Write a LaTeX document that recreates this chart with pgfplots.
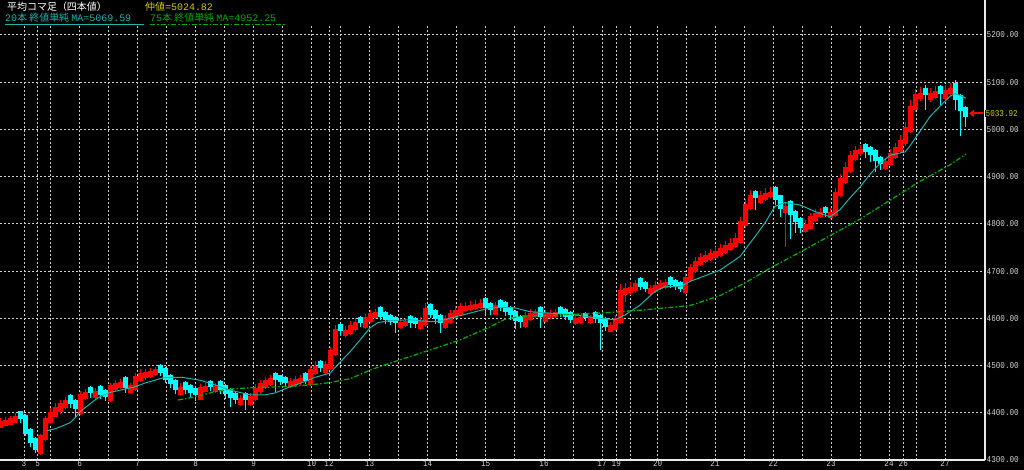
\documentclass[border=0pt]{standalone}
\usepackage{fontspec}
\usepackage{pgfplots}
\pgfplotsset{compat=1.18}
\usepackage{pgfplotstable}
\usetikzlibrary{arrows.meta}
\newfontfamily\jp{Noto Sans CJK JP}
\newfontfamily\mono{Liberation Mono}
\newfontfamily\tickf{Liberation Mono}[FakeStretch=0.85]
\definecolor{gridc}{RGB}{205,205,205}
\definecolor{ma20}{RGB}{32,178,170}
\definecolor{ma75}{RGB}{0,170,0}
\definecolor{hdrY}{RGB}{205,205,0}
\definecolor{candU}{RGB}{255,0,0}
\definecolor{candD}{RGB}{0,255,255}
% rising candles: x open close high low
\pgfplotstableread{
x o c h l
0 4368 4382 4388 4368
5 4372 4385 4391 4372
10 4375 4388 4393 4375
15 4378 4393 4399 4378
40 4312 4352 4356 4310
45 4342 4388 4394 4340
50 4378 4402 4410 4376
55 4392 4412 4420 4390
60 4402 4420 4428 4398
65 4410 4428 4434 4407
80 4398 4440 4446 4396
85 4430 4444 4450 4428
95 4431 4446 4452 4428
110 4424 4458 4464 4422
115 4448 4463 4470 4446
120 4453 4465 4472 4450
130 4442 4458 4464 4440
135 4448 4478 4485 4446
140 4468 4484 4492 4466
145 4474 4486 4492 4470
150 4476 4489 4495 4473
155 4479 4492 4497 4477
180 4438 4455 4462 4436
200 4428 4455 4460 4426
205 4445 4457 4463 4443
215 4444 4457 4462 4442
240 4416 4431 4437 4414
250 4416 4436 4442 4414
255 4426 4453 4460 4424
260 4443 4463 4470 4440
265 4453 4469 4476 4450
270 4459 4474 4480 4456
290 4454 4468 4474 4452
295 4458 4472 4478 4455
300 4462 4474 4480 4458
310 4458 4492 4500 4456
315 4482 4500 4510 4480
325 4484 4503 4510 4482
330 4493 4533 4540 4490
335 4523 4578 4586 4520
345 4563 4576 4584 4560
350 4566 4586 4594 4564
355 4576 4593 4600 4574
365 4580 4603 4610 4578
370 4593 4611 4618 4590
375 4601 4613 4620 4599
400 4579 4593 4599 4577
405 4583 4595 4600 4581
420 4578 4595 4602 4576
425 4585 4621 4633 4582
445 4580 4600 4606 4578
450 4590 4611 4618 4588
455 4601 4618 4626 4599
460 4608 4625 4632 4606
465 4615 4627 4634 4613
470 4617 4629 4636 4615
475 4619 4631 4638 4617
480 4621 4633 4640 4619
495 4608 4628 4635 4606
525 4582 4607 4614 4580
530 4597 4612 4619 4595
535 4602 4614 4620 4600
545 4593 4611 4618 4591
550 4601 4612 4618 4599
555 4602 4614 4620 4600
575 4587 4600 4606 4585
580 4590 4602 4608 4588
590 4590 4603 4608 4588
610 4572 4585 4592 4570
615 4575 4600 4608 4573
620 4590 4660 4672 4588
625 4650 4664 4674 4634
630 4654 4667 4676 4650
635 4657 4675 4682 4654
650 4652 4665 4670 4650
655 4655 4671 4678 4653
660 4661 4675 4682 4659
665 4665 4677 4683 4663
685 4653 4688 4695 4651
690 4678 4708 4716 4676
695 4698 4722 4730 4696
700 4712 4730 4738 4710
705 4720 4734 4742 4718
710 4724 4738 4746 4722
715 4728 4742 4752 4726
720 4732 4749 4758 4730
725 4739 4755 4764 4737
730 4745 4760 4770 4742
735 4750 4770 4780 4748
740 4760 4805 4815 4758
745 4795 4842 4852 4792
750 4832 4860 4872 4830
760 4845 4861 4870 4842
765 4851 4866 4876 4849
770 4856 4868 4878 4854
785 4822 4838 4846 4752
805 4782 4800 4808 4780
810 4790 4816 4824 4788
815 4806 4824 4832 4804
820 4814 4826 4833 4812
830 4812 4826 4833 4810
835 4816 4868 4876 4814
840 4858 4897 4906 4856
845 4887 4920 4930 4884
850 4910 4945 4955 4908
855 4935 4957 4964 4933
860 4947 4959 4966 4944
885 4916 4934 4940 4914
890 4924 4950 4958 4922
895 4940 4963 4972 4938
900 4953 4978 4988 4950
905 4968 5005 5015 4964
910 4995 5050 5062 4992
915 5040 5074 5085 5036
920 5064 5078 5090 5060
930 5062 5077 5088 5058
935 5067 5081 5092 5064
945 5065 5084 5094 5062
950 5074 5088 5098 5070
}\upT
% falling candles: x open close high low
\pgfplotstableread{
x o c h l
20 4403 4386 4403 4378
25 4396 4356 4398 4350
30 4366 4336 4368 4328
35 4346 4322 4348 4314
70 4438 4418 4440 4410
75 4428 4408 4430 4392
90 4454 4441 4456 4432
100 4456 4438 4458 4430
105 4448 4434 4450 4424
125 4475 4452 4477 4442
160 4502 4484 4504 4478
165 4494 4470 4496 4462
170 4480 4460 4482 4452
175 4470 4448 4472 4440
185 4465 4449 4467 4440
190 4459 4442 4461 4432
195 4452 4438 4454 4424
210 4467 4454 4469 4446
220 4467 4448 4469 4440
225 4458 4440 4460 4430
230 4450 4432 4452 4413
235 4442 4426 4444 4418
245 4441 4426 4443 4406
275 4484 4469 4486 4445
280 4479 4466 4481 4458
285 4476 4464 4478 4456
305 4484 4468 4486 4460
320 4510 4494 4512 4486
340 4588 4573 4590 4562
360 4603 4590 4605 4582
380 4623 4603 4625 4596
385 4613 4597 4615 4588
390 4607 4593 4609 4585
395 4603 4589 4605 4569
410 4605 4590 4607 4580
415 4600 4588 4602 4580
430 4631 4608 4633 4600
435 4618 4598 4620 4588
440 4608 4590 4610 4569
485 4643 4622 4645 4610
490 4632 4618 4634 4606
500 4638 4624 4640 4616
505 4634 4614 4636 4604
510 4624 4606 4626 4596
515 4616 4594 4618 4578
520 4604 4592 4606 4580
540 4624 4603 4626 4580
560 4624 4609 4626 4602
565 4619 4603 4621 4596
570 4613 4597 4615 4590
585 4612 4600 4614 4594
595 4613 4598 4615 4590
600 4608 4590 4610 4533
605 4600 4582 4602 4574
640 4685 4667 4687 4660
645 4677 4662 4679 4655
670 4687 4671 4689 4664
675 4681 4667 4683 4660
680 4677 4663 4679 4656
755 4870 4855 4872 4830
775 4878 4850 4880 4840
780 4860 4832 4862 4815
790 4848 4818 4850 4768
795 4828 4803 4830 4780
800 4813 4792 4815 4780
825 4836 4822 4838 4814
865 4969 4953 4971 4940
870 4963 4946 4965 4930
875 4956 4932 4958 4910
880 4942 4926 4944 4915
925 5088 5072 5094 5040
940 5091 5075 5094 5050
955 5098 5062 5104 5040
960 5072 5038 5074 4985
965 5048 5026 5050 5005
}\dnT
\begin{document}
\begin{tikzpicture}
\fill[black] (0,0) rectangle (1024bp,470bp);
\begin{axis}[
  at={(0,10bp)}, anchor=south west,
  width=985bp, height=435bp, scale only axis,
  xmin=0, xmax=985, ymin=4300, ymax=5221,
  axis x line*=bottom, axis y line*=right,
  axis line style={draw=white!92!black, line width=1.5bp, -},
  xtick={24,37.7,50.7,79.7,108.7,137.7,166.7,195.7,224.7,253.7,282.7,311.7,329,340.7,369.7,398.7,427.7,456.7,485.7,514.7,544,573,602,616.3,630,657.7,686.7,715,744.3,773.3,802.3,831,860,889,903.3,916,945},
  xticklabels={3,5,{},6,{},7,{},8,{},9,{},10,12,{},13,{},14,{},15,{},16,{},17,19,{},20,{},21,{},22,{},23,{},24,26,{},27},
  ytick={4300,4400,4500,4600,4700,4800,4900,5000,5100,5200},
  /pgf/number format/assume math mode=true,
  yticklabel={\pgfmathprintnumber[fixed,fixed zerofill,precision=2,1000 sep={}]{\tick}},
  grid=major,
  major grid style={draw=gridc, dash pattern=on 2bp off 2bp, line width=1bp},
  major tick length=0pt,
  tick label style={font=\tickf\fontsize{9}{9}\selectfont, text=white!82!black},
  xticklabel style={inner sep=0.5bp, yshift=0.5bp},
  yticklabel style={anchor=west, inner sep=1.5bp},
  axis background/.style={fill=black},
]
% wicks
\addplot[candD, line width=1bp, mark=none, -, forget plot,
  quiver={u=0, v=\thisrow{h}-\thisrow{l}}] table[x=x, y=l] {\dnT};
\addplot[candU, line width=1bp, mark=none, -, forget plot,
  quiver={u=0, v=\thisrow{h}-\thisrow{l}}] table[x=x, y=l] {\upT};
% bodies
\addplot[candD, line width=5bp, mark=none, -, forget plot,
  quiver={u=0, v=\thisrow{o}-\thisrow{c}}] table[x=x, y=c] {\dnT};
\addplot[candU, line width=5bp, mark=none, -, forget plot,
  quiver={u=0, v=\thisrow{c}-\thisrow{o}}] table[x=x, y=o] {\upT};
% MA 20
\addplot[ma20, line width=1bp, mark=none] coordinates {(47,4362)(55,4366)(60,4370)(70,4379)(75,4389)(80,4402)(87,4414)(95,4427)(100,4434)(110,4443)(125,4450)(135,4455)(145,4463)(155,4469)(163,4474)(175,4475)(182,4475)(200,4469)(215,4459)(230,4448)(250,4438)(265,4438)(275,4442)(290,4455)(305,4466)(315,4475)(330,4484)(340,4507)(350,4529)(360,4554)(370,4580)(378,4591)(390,4595)(410,4597)(430,4593)(440,4594)(455,4603)(470,4611)(490,4622)(505,4623)(515,4622)(530,4614)(550,4611)(575,4607)(600,4600)(615,4597)(625,4607)(640,4628)(655,4657)(665,4667)(680,4667)(690,4678)(705,4690)(720,4702)(740,4731)(755,4773)(765,4802)(775,4837)(785,4845)(800,4840)(815,4826)(830,4815)(840,4830)(850,4855)(860,4878)(870,4905)(880,4928)(890,4945)(900,4950)(905,4952)(910,4965)(920,4996)(930,5027)(940,5049)(950,5070)(955,5076)(960,5072)(966,5066)};
% MA 75
\addplot[ma75, line width=1.3bp, mark=none, dash pattern=on 5bp off 2bp on 1.5bp off 2bp] coordinates {(178,4427)(200,4436)(215,4445)(230,4450)(250,4453)(280,4455)(310,4459)(330,4464)(350,4472)(372,4492)(400,4512)(430,4533)(460,4554)(490,4582)(505,4598)(520,4604)(550,4606)(600,4611)(640,4617)(690,4627)(720,4648)(745,4675)(770,4706)(800,4740)(830,4775)(860,4810)(890,4850)(920,4890)(950,4925)(966,4948)};
\coordinate (lastp) at (axis cs:985,5033.92);
\coordinate (arrs) at (axis cs:983,5033.92);
\coordinate (arre) at (axis cs:969,5033.92);
\end{axis}
% right border up to the top
\draw[white!92!black, line width=1.5bp] (985bp,445bp) -- (985bp,470bp);
% last price marker
\draw[red, line width=2bp, -{Triangle[length=5bp,width=7bp]}] (arrs) -- (arre);
\node[anchor=west, inner sep=0.5bp, fill=black, text=hdrY, font=\tickf\fontsize{9}{9}\selectfont] at (lastp) {5033.92};
% header
\node[anchor=base west, inner sep=0, text=white] at (7bp,459bp) {\jp\fontsize{10}{10}\selectfont 平均コマ足（四本値）};
\node[anchor=base west, inner sep=0, text=hdrY] at (145bp,459bp) {\fontsize{10}{10}\selectfont{\jp 仲値}{\mono =5024.82}};
\node[anchor=base west, inner sep=0, text=ma20] at (5bp,448bp) {\fontsize{10}{10}\selectfont{\mono 20}{\jp 本 終値単純 }{\mono MA=5069.59}};
\draw[ma20, line width=1bp] (5bp,445.5bp) -- (144bp,445.5bp);
\node[anchor=base west, inner sep=0, text=ma75] at (150bp,448bp) {\fontsize{10}{10}\selectfont{\mono 75}{\jp 本 終値単純 }{\mono MA=4952.25}};
\draw[ma75, line width=1bp, dash pattern=on 5bp off 2bp on 1.5bp off 2bp] (150bp,445.5bp) -- (285bp,445.5bp);
\pgfresetboundingbox
\path (0,0) rectangle (1024bp,470bp);
\end{tikzpicture}
\end{document}
